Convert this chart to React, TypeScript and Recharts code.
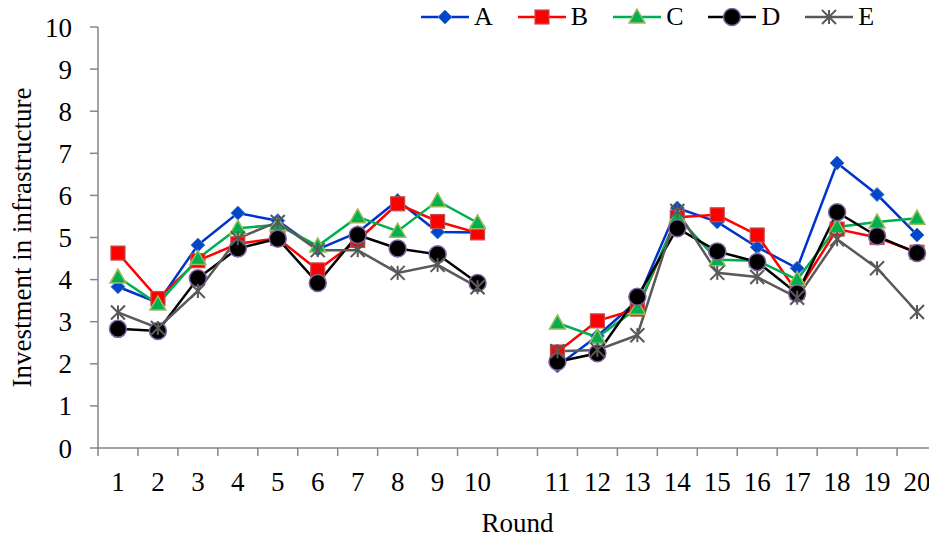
import React from 'react'
import { LineChart, Line, XAxis, YAxis } from 'recharts'

const rounds = ['1', '2', '3', '4', '5', '6', '7', '8', '9', '10', '', '11', '12', '13', '14', '15', '16', '17', '18', '19', '20']

const seriesA = [3.83, 3.45, 4.82, 5.58, 5.4, 4.72, 5.12, 5.88, 5.13, 5.12, null, 1.95, 2.66, 3.5, 5.7, 5.37, 4.77, 4.27, 6.77, 6.02, 5.06]
const seriesB = [4.63, 3.55, 4.45, 4.85, 4.98, 4.23, 4.93, 5.8, 5.38, 5.11, null, 2.28, 3.02, 3.3, 5.48, 5.54, 5.06, 3.7, 5.2, 5.0, 4.65]
const seriesC = [4.06, 3.42, 4.5, 5.22, 5.3, 4.8, 5.49, 5.15, 5.87, 5.35, null, 2.97, 2.63, 3.32, 5.5, 4.47, 4.45, 4.0, 5.25, 5.37, 5.46]
const seriesD = [2.83, 2.78, 4.03, 4.74, 4.97, 3.92, 5.06, 4.74, 4.6, 3.92, null, 2.05, 2.25, 3.59, 5.22, 4.67, 4.42, 3.67, 5.6, 5.03, 4.63]
const seriesE = [3.22, 2.85, 3.73, 4.98, 5.37, 4.7, 4.7, 4.16, 4.35, 3.82, null, 2.3, 2.33, 2.68, 5.63, 4.16, 4.06, 3.57, 4.96, 4.27, 3.23]

const yTicks = [0, 1, 2, 3, 4, 5, 6, 7, 8, 9, 10]

const FONT = '"Liberation Serif", "Times New Roman", Times, serif'
const AXIS = '#868686'
const FS = 27

const chartData = rounds.map((round, i) => ({
  round,
  A: seriesA[i],
  B: seriesB[i],
  C: seriesC[i],
  D: seriesD[i],
  E: seriesE[i]
}))

type Kind = 'diamond' | 'square' | 'triangle' | 'circle' | 'star'

const series: { key: string; color: string; kind: Kind }[] = [
  { key: 'A', color: '#0033cc', kind: 'diamond' },
  { key: 'B', color: '#ff0000', kind: 'square' },
  { key: 'C', color: '#00b050', kind: 'triangle' },
  { key: 'D', color: '#000000', kind: 'circle' },
  { key: 'E', color: '#595959', kind: 'star' }
]

function Marker({ kind, cx, cy }: { kind: Kind; cx: number; cy: number }) {
  if (kind === 'diamond') {
    const r = 7
    return <polygon points={`${cx},${cy - r} ${cx + r},${cy} ${cx},${cy + r} ${cx - r},${cy}`} fill="#0047cc" stroke="#4f81bd" strokeWidth={1} />
  }
  if (kind === 'square') {
    return <rect x={cx - 7} y={cy - 7} width={14} height={14} fill="#ff0000" stroke="#c0504d" strokeWidth={1.2} />
  }
  if (kind === 'triangle') {
    return <polygon points={`${cx},${cy - 8} ${cx + 8},${cy + 6} ${cx - 8},${cy + 6}`} fill="#00b050" stroke="#9bbb59" strokeWidth={1.5} />
  }
  if (kind === 'circle') {
    return <circle cx={cx} cy={cy} r={8.5} fill="#000" stroke="#8064a2" strokeWidth={1.5} />
  }
  const r = 7
  return (
    <g stroke="#595959" strokeWidth={2}>
      <line x1={cx} y1={cy - r} x2={cx} y2={cy + r} />
      <line x1={cx - r} y1={cy - r} x2={cx + r} y2={cy + r} />
      <line x1={cx - r} y1={cy + r} x2={cx + r} y2={cy - r} />
    </g>
  )
}

const makeDot = (kind: Kind) => (props: any) => {
  const { cx, cy, value, index } = props
  if (value == null || cx == null || cy == null) return <g key={`e-${index}`} />
  return (
    <g key={`d-${index}`}>
      <Marker kind={kind} cx={cx} cy={cy} />
    </g>
  )
}

// category labels centred in each band, tick marks on the band edges (Excel style)
function RoundTick(props: any) {
  const { x, y, payload, index, visibleTicksCount } = props
  const half = payload?.offset || 20
  const axisY = y - 8
  return (
    <g>
      <line x1={x - half} y1={axisY} x2={x - half} y2={axisY + 8} stroke={AXIS} strokeWidth={1.5} />
      {index === visibleTicksCount - 1 && (
        <line x1={x + half} y1={axisY} x2={x + half} y2={axisY + 8} stroke={AXIS} strokeWidth={1.5} />
      )}
      <text x={x} y={y + 35} textAnchor="middle" fontFamily={FONT} fontSize={FS} fill="#000">
        {payload.value}
      </text>
    </g>
  )
}

function ChartLegend() {
  return (
    <div
      style={{
        position: 'absolute',
        top: 4,
        left: 420,
        display: 'flex',
        gap: 24,
        fontFamily: FONT,
        fontSize: 26,
        alignItems: 'center'
      }}
    >
      {series.map((s) => (
        <div key={s.key} style={{ display: 'flex', alignItems: 'center' }}>
          <svg width={50} height={20}>
            <line x1={1} y1={10} x2={49} y2={10} stroke={s.color} strokeWidth={2.5} />
            <Marker kind={s.kind} cx={25} cy={10} />
          </svg>
          <span style={{ marginLeft: 4, lineHeight: '26px' }}>{s.key}</span>
        </div>
      ))}
    </div>
  )
}

export default function App() {
  return (
    <div style={{ margin: -8, width: 937, height: 543, background: '#fff', position: 'relative' }}>
      <LineChart width={937} height={543} data={chartData} margin={{ top: 27, right: 0, bottom: 0, left: 0 }}>
        <XAxis
          dataKey="round"
          scale="band"
          interval={0}
          tickLine={false}
          tickSize={8}
          tickMargin={0}
          stroke={AXIS}
          strokeWidth={1.5}
          height={95}
          tick={<RoundTick />}
          label={{ value: 'Round', position: 'insideBottom', offset: 11, fontFamily: FONT, fontSize: FS, fill: '#000' }}
        />
        <YAxis
          domain={[0, 10]}
          ticks={yTicks}
          interval={0}
          width={98}
          tickSize={8}
          tickMargin={18}
          stroke={AXIS}
          strokeWidth={1.5}
          tick={{ fontFamily: FONT, fontSize: FS, fill: '#000' }}
          label={{ value: 'Investment in infrastructure', angle: -90, position: 'insideLeft', offset: 21, style: { textAnchor: 'middle' }, fontFamily: FONT, fontSize: FS, fill: '#000' }}
        />
        {series.map((s) => (
          <Line
            key={s.key}
            dataKey={s.key}
            stroke={s.color}
            strokeWidth={2.5}
            dot={makeDot(s.kind)}
            activeDot={false}
            isAnimationActive={false}
          />
        ))}
      </LineChart>
      <ChartLegend />
    </div>
  )
}
